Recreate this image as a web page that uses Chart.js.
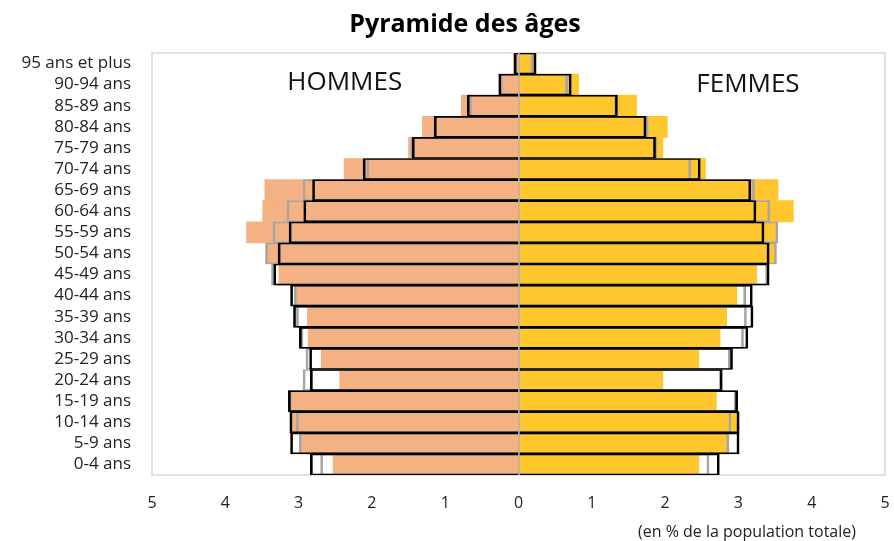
<!DOCTYPE html>
<html>
<head>
<meta charset="utf-8">
<script src="https://cdn.jsdelivr.net/npm/chart.js@4/dist/chart.umd.min.js"></script>
<style>
  html, body { margin: 0; padding: 0; background: #ffffff; }
  #wrap { width: 894px; height: 541px; position: relative; }
</style>
</head>
<body>
<div id="wrap"><canvas id="c" width="894" height="541"></canvas></div>
<script>
// Categories, top to bottom
const ageGroups = ["95 ans et plus","90-94 ans","85-89 ans","80-84 ans","75-79 ans","70-74 ans","65-69 ans","60-64 ans","55-59 ans","50-54 ans","45-49 ans","40-44 ans","35-39 ans","30-34 ans","25-29 ans","20-24 ans","15-19 ans","10-14 ans","5-9 ans","0-4 ans"];

// Values in % of total population
const hommesRempli = [0.07,0.24,0.78,1.31,1.50,2.38,3.46,3.49,3.71,3.45,3.27,3.03,2.88,2.87,2.69,2.44,3.13,3.11,2.96,2.53];
const hommesGris   = [0.05,0.25,0.67,1.15,1.47,2.07,2.94,3.16,3.35,3.45,3.37,3.06,3.03,2.97,2.90,2.94,3.13,3.03,2.99,2.70];
const hommesNoir   = [0.06,0.27,0.70,1.15,1.45,2.12,2.81,2.93,3.13,3.28,3.34,3.11,3.07,2.99,2.85,2.84,3.14,3.12,3.11,2.84];

const femmesRempli = [0.24,0.82,1.61,2.03,1.97,2.55,3.54,3.75,3.52,3.50,3.25,2.98,2.84,2.75,2.46,1.97,2.70,3.01,2.87,2.46];
const femmesGris   = [0.20,0.67,1.34,1.77,1.89,2.35,3.22,3.43,3.54,3.52,3.40,3.10,3.11,3.07,2.89,2.77,2.97,2.90,2.87,2.60];
const femmesNoir   = [0.24,0.72,1.35,1.74,1.87,2.48,3.17,3.24,3.35,3.42,3.42,3.19,3.20,3.13,2.92,2.78,2.99,3.01,3.01,2.74];

const xTicks = [-5,-4,-3,-2,-1,0,1,2,3,4,5];

const FONT = "'Open Sans', 'Noto Sans', sans-serif";
const neg = a => a.map(v => -v);

const outlineBorder = { top: 1, bottom: 1, left: 2, right: 2 };

const common = {
  barPercentage: 1,
  categoryPercentage: 1,
  grouped: false,
  borderSkipped: 'start'
};

const datasets = [
  Object.assign({ label: 'Hommes (noir)', data: neg(hommesNoir), backgroundColor: 'rgba(0,0,0,0)', borderColor: '#000000', borderWidth: outlineBorder, order: 1 }, common),
  Object.assign({ label: 'Femmes (noir)', data: femmesNoir, backgroundColor: 'rgba(0,0,0,0)', borderColor: '#000000', borderWidth: outlineBorder, order: 1 }, common),
  Object.assign({ label: 'Hommes (gris)', data: neg(hommesGris), backgroundColor: 'rgba(0,0,0,0)', borderColor: '#a6a6a6', borderWidth: outlineBorder, order: 2 }, common),
  Object.assign({ label: 'Femmes (gris)', data: femmesGris, backgroundColor: 'rgba(0,0,0,0)', borderColor: '#a6a6a6', borderWidth: outlineBorder, order: 2 }, common),
  Object.assign({ label: 'Hommes', data: neg(hommesRempli), backgroundColor: '#F4B183', borderWidth: 0, order: 3 }, common),
  Object.assign({ label: 'Femmes', data: femmesRempli, backgroundColor: '#FFC62E', borderWidth: 0, order: 3 }, common)
];

const decor = {
  id: 'decor',
  beforeDatasetsDraw(chart) {
    const { ctx, chartArea: a } = chart;
    ctx.save();
    ctx.strokeStyle = '#d9d9d9';
    ctx.lineWidth = 1.5;
    ctx.strokeRect(a.left, a.top, a.right - a.left, a.bottom - a.top);
    ctx.restore();
  },
  afterDatasetsDraw(chart) {
    const { ctx, chartArea: a, scales } = chart;
    const x0 = scales.x.getPixelForValue(0);
    ctx.save();
    ctx.strokeStyle = '#b0b0b0';
    ctx.lineWidth = 1.5;
    ctx.beginPath();
    ctx.moveTo(x0 + 0.5, a.top);
    ctx.lineTo(x0 + 0.5, a.bottom);
    ctx.stroke();
    ctx.restore();
  },
  afterDraw(chart) {
    const { ctx, scales } = chart;
    ctx.save();
    ctx.fillStyle = '#000000';
    ctx.textBaseline = 'middle';
    ctx.textAlign = 'center';
    ctx.font = "bold 25px " + FONT;
    ctx.fillText('Pyramide des âges', 465, 25);
    ctx.font = "26px " + FONT;
    ctx.fillStyle = '#111111';
    ctx.fillText('HOMMES', scales.x.getPixelForValue(-2.37), 83);
    ctx.fillText('FEMMES', scales.x.getPixelForValue(3.13), 85);
    ctx.font = "16px " + FONT;
    ctx.textAlign = 'right';
    ctx.fillStyle = '#222222';
    ctx.fillText('(en % de la population totale)', 856, 532);
    ctx.restore();
  }
};

new Chart(document.getElementById('c'), {
  type: 'bar',
  data: { labels: ageGroups, datasets },
  options: {
    indexAxis: 'y',
    responsive: false,
    animation: false,
    layout: { padding: { top: 53, right: 9, bottom: 0, left: 0 } },
    plugins: { legend: { display: false }, tooltip: { enabled: false }, title: { display: false } },
    scales: {
      x: {
        type: 'linear',
        min: -5, max: 5,
        afterBuildTicks(scale) { scale.ticks = xTicks.map(v => ({ value: v })); },
        afterFit(scale) { scale.height = 66; scale.paddingLeft = 0; scale.paddingRight = 0; },
        grid: { display: false, drawTicks: false },
        border: { display: false },
        ticks: {
          padding: 19,
          color: '#222222',
          font: { family: FONT, size: 16 },
          callback: v => String(Math.abs(v))
        }
      },
      y: {
        type: 'category',
        afterFit(scale) { scale.width = 152; scale.paddingTop = 0; scale.paddingBottom = 0; },
        grid: { display: false, drawTicks: false },
        border: { display: false },
        ticks: {
          autoSkip: false,
          padding: 21,
          color: '#222222',
          font: { family: FONT, size: 17 }
        }
      }
    }
  },
  plugins: [decor]
});
</script>
</body>
</html>
